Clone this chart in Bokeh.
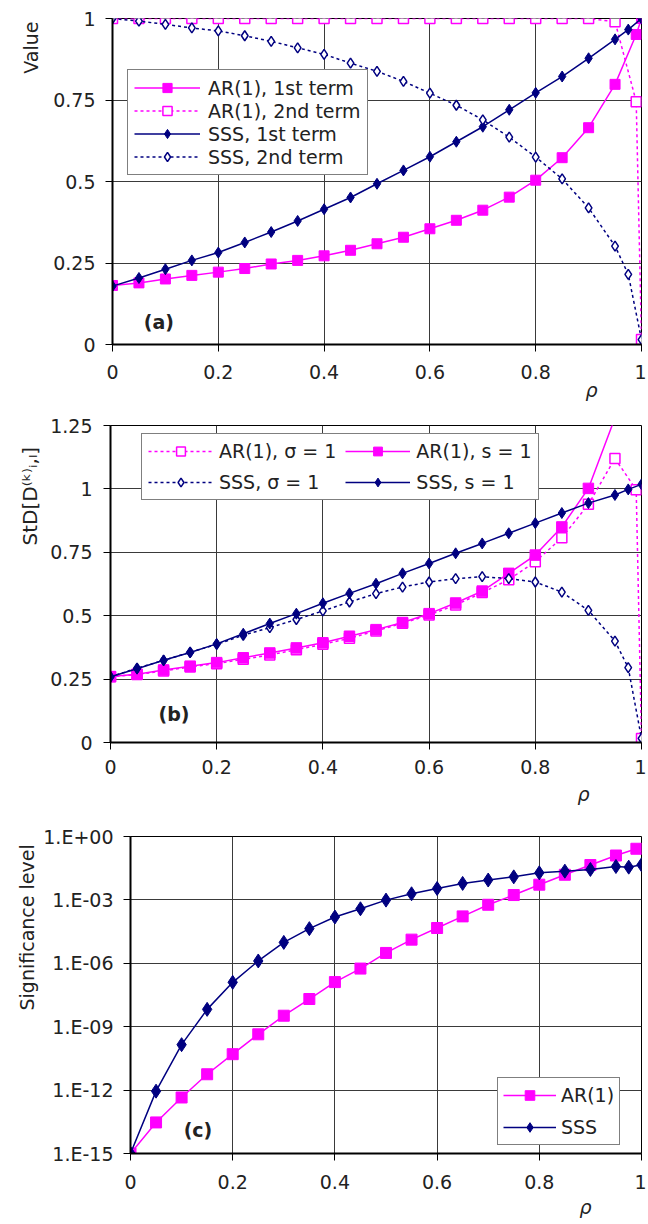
from bokeh.plotting import figure
from bokeh.models import (Range1d, FixedTicker, CustomJSTickFormatter, Label,
                          Legend, LegendItem, Title)
from bokeh.layouts import column, row
from bokeh.embed import file_html
from bokeh.resources import INLINE

# ---------------- data ----------------
RHO = [0.0, 0.05, 0.1, 0.15, 0.2, 0.25, 0.3, 0.35, 0.4, 0.45,
       0.5, 0.55, 0.6, 0.65, 0.7, 0.75, 0.8, 0.85, 0.9, 0.95]
X_TICKS = [0, 0.2, 0.4, 0.6, 0.8, 1]

# panel (a)
a_x_ar1 = RHO + [0.99, 1.0]
a_ar1_t1 = [0.181, 0.189, 0.201, 0.212, 0.222, 0.233, 0.247, 0.258, 0.272, 0.289,
            0.309, 0.329, 0.355, 0.381, 0.412, 0.452, 0.504, 0.573, 0.665, 0.798,
            0.951, 1.0]
a_ar1_t2 = [1.0, 1.0, 1.0, 1.0, 1.0, 1.0, 1.0, 1.0, 1.0, 1.0,
            1.0, 1.0, 1.0, 1.0, 1.0, 1.0, 1.0, 1.0, 1.0, 0.99,
            0.745, 0.015]
a_x_sss = RHO + [0.975, 1.0]
a_sss_t1 = [0.179, 0.204, 0.231, 0.258, 0.282, 0.313, 0.345, 0.379, 0.415, 0.451,
            0.493, 0.534, 0.576, 0.622, 0.668, 0.720, 0.772, 0.822, 0.878, 0.936,
            0.966, 1.0]
a_sss_t2 = [1.0, 0.992, 0.982, 0.971, 0.962, 0.947, 0.930, 0.910, 0.890, 0.863,
            0.838, 0.807, 0.771, 0.734, 0.689, 0.636, 0.575, 0.508, 0.419, 0.302,
            0.215, 0.015]
A_Y_TICKS = [0, 0.25, 0.5, 0.75, 1]

# panel (b)
b_x_ar1_sig = RHO + [0.99, 1.0]
b_ar1_sig = [0.259, 0.268, 0.282, 0.298, 0.311, 0.328, 0.345, 0.366, 0.387, 0.411,
             0.440, 0.470, 0.503, 0.542, 0.591, 0.642, 0.713, 0.807, 0.939, 1.120,
             0.997, 0.016]
b_x_ar1_s = RHO
b_ar1_s = [0.260, 0.269, 0.286, 0.301, 0.315, 0.334, 0.353, 0.373, 0.393, 0.419,
           0.445, 0.473, 0.508, 0.550, 0.597, 0.667, 0.739, 0.850, 1.002, 1.28]
b_x_sss = RHO + [0.975, 1.0]
b_sss_sig = [0.259, 0.293, 0.324, 0.356, 0.387, 0.423, 0.453, 0.485, 0.519, 0.554,
             0.587, 0.613, 0.633, 0.646, 0.654, 0.646, 0.633, 0.593, 0.521, 0.400,
             0.295, 0.016]
b_sss_s = [0.259, 0.291, 0.324, 0.355, 0.389, 0.429, 0.469, 0.508, 0.549, 0.588,
           0.626, 0.667, 0.706, 0.746, 0.785, 0.825, 0.865, 0.905, 0.944, 0.976,
           0.998, 1.018]
B_Y_TICKS = [0, 0.25, 0.5, 0.75, 1, 1.25]

# panel (c)  (log10 of significance level)
c_x_ar1 = RHO + [0.99]
c_ar1_log = [-15.0, -13.53, -12.35, -11.25, -10.30, -9.36, -8.48, -7.69, -6.89, -6.25,
             -5.51, -4.88, -4.33, -3.78, -3.23, -2.77, -2.28, -1.81, -1.35, -0.90,
             -0.58]
c_x_sss = RHO + [0.975, 1.0]
c_sss_log = [-15.0, -12.05, -9.85, -8.18, -6.90, -5.89, -5.01, -4.36, -3.81, -3.42,
             -3.01, -2.71, -2.46, -2.22, -2.06, -1.91, -1.72, -1.64, -1.56, -1.42,
             -1.45, -1.34]
C_Y_TICKS_EXP = [-15, -12, -9, -6, -3, 0]

# ---------------- style ----------------
PINK = "#ff00ff"
NAVY = "#000080"
FONT = "DejaVu Sans"
TXT = "#222222"
FS = "19px"
GRID = "#3a3a3a"
W = 646

lin_fmt = CustomJSTickFormatter(code="return String(Math.round(tick*100)/100);")
log_fmt = CustomJSTickFormatter(code="""
const e = Math.round(Math.log10(tick));
const s = e < 0 ? '-' : '+';
const a = Math.abs(e);
return '1.E' + s + (a < 10 ? '0' : '') + a;
""")


def make_fig(height, ml, mt, mb, yr, yticks, ylog, xstand, ystand):
    p = figure(width=W, height=height,
               x_range=Range1d(0, 1), y_range=Range1d(*yr),
               y_axis_type="log" if ylog else "linear",
               output_backend="svg", toolbar_location=None,
               min_border_left=ml, min_border_right=5,
               min_border_top=mt, min_border_bottom=mb)
    p.background_fill_color = "white"
    p.border_fill_color = "white"
    p.outline_line_color = "black"
    p.outline_line_width = 1
    p.xaxis.ticker = FixedTicker(ticks=X_TICKS, minor_ticks=[])
    p.yaxis.ticker = FixedTicker(ticks=yticks, minor_ticks=[])
    p.xaxis.formatter = lin_fmt
    p.yaxis.formatter = log_fmt if ylog else lin_fmt
    for ax, st in ((p.xaxis, xstand), (p.yaxis, ystand)):
        ax.axis_line_color = "black"
        ax.axis_line_width = 2
        ax.major_tick_line_color = "black"
        ax.major_tick_line_width = 1
        ax.major_tick_out = 7
        ax.major_tick_in = 0
        ax.minor_tick_out = 0
        ax.minor_tick_in = 0
        ax.major_label_text_font = FONT
        ax.major_label_text_font_size = FS
        ax.major_label_text_color = TXT
        ax.major_label_standoff = st
    p.xgrid.grid_line_color = GRID
    p.ygrid.grid_line_color = GRID
    p.xgrid.grid_line_width = 1
    p.ygrid.grid_line_width = 1
    return p


def series(p, x, y, color, marker, size, filled, dash):
    ln = p.line(x, y, line_color=color, line_width=1.5,
                line_dash="solid" if not dash else "3 3")
    sc = p.scatter(x, y, marker=marker, size=size, line_color=color,
                   line_width=1 if filled else 1.5,
                   fill_color=color if filled else "white")
    return [ln, sc]


def inner_label(p, x, y, text):
    p.add_layout(Label(x=x, y=y, text=text,
                       text_font=FONT, text_font_size=FS,
                       text_font_style="bold", text_color=TXT,
                       text_align="center", text_baseline="middle"))


def side_title(p, side, text, offset, standoff, style="normal", size=FS, align="left"):
    t = Title(text=text, align=align, offset=offset, standoff=standoff,
              text_font=FONT, text_font_size=size,
              text_font_style=style, text_color=TXT)
    p.add_layout(t, side)
    return t


def style_legend(lg, pad, gw, gh, lh, sp, stand):
    lg.label_text_font = FONT
    lg.label_text_font_size = FS
    lg.label_text_color = TXT
    lg.border_line_color = "black"
    lg.border_line_width = 1
    lg.background_fill_color = "white"
    lg.background_fill_alpha = 1.0
    lg.padding = pad
    lg.margin = 0
    lg.glyph_width = gw
    lg.glyph_height = gh
    lg.label_height = lh
    lg.spacing = sp
    lg.label_standoff = stand


# ---------------- panel (a) ----------------
pa = make_fig(405, 112, 18, 61, (0, 1), A_Y_TICKS, False, 13, 10)
r_a1 = series(pa, a_x_ar1, a_ar1_t1, PINK, "square", 10, True, False)
r_a2 = series(pa, a_x_ar1, a_ar1_t2, PINK, "square", 10, False, True)
r_s1 = series(pa, a_x_sss, a_sss_t1, NAVY, "diamond", 11, True, False)
r_s2 = series(pa, a_x_sss, a_sss_t2, NAVY, "diamond", 10, False, True)
lga = Legend(items=[LegendItem(label="AR(1), 1st term", renderers=r_a1),
                    LegendItem(label="AR(1), 2nd term", renderers=r_a2),
                    LegendItem(label="SSS, 1st term", renderers=r_s1),
                    LegendItem(label="SSS, 2nd term", renderers=r_s2)],
             location=(15, 169))
style_legend(lga, 6, 66, 23, 23, 0, 8)
pa.add_layout(lga)
side_title(pa, "left", "Value", 3, 18, align="right")
side_title(pa, "below", "ρ", 473, -10, style="italic")
inner_label(pa, 0.0876, 0.0675, "(a)")

# ---------------- panel (b) ----------------
pb = make_fig(407, 110, 20, 70, (0, 1.25), B_Y_TICKS, False, 10, 11)
r_b1 = series(pb, b_x_ar1_sig, b_ar1_sig, PINK, "square", 10, False, True)
r_b2 = series(pb, b_x_ar1_s, b_ar1_s, PINK, "square", 10.5, True, False)
r_b3 = series(pb, b_x_sss, b_sss_sig, NAVY, "diamond", 10, False, True)
r_b4 = series(pb, b_x_sss, b_sss_s, NAVY, "diamond", 11, True, False)
lgb = Legend(items=[LegendItem(label="AR(1), σ = 1", renderers=r_b1),
                    LegendItem(label="SSS, σ = 1", renderers=r_b3),
                    LegendItem(label="AR(1), s = 1", renderers=r_b2),
                    LegendItem(label="SSS, s = 1", renderers=r_b4)],
             location=(31, 242), ncols=2)
style_legend(lgb, 6, 65, 22, 22, 9, 6)
pb.add_layout(lgb)
side_title(pb, "left", "StD[D⁽ᵏ⁾ᵢ,ₗ]", 197, 11, size="20px")
side_title(pb, "below", "ρ", 467, 9, style="italic")
inner_label(pb, 0.1195, 0.114, "(b)")

# ---------------- panel (c) ----------------
pc = make_fig(412, 130, 24, 71, (1e-15, 1.0), [10.0 ** e for e in C_Y_TICKS_EXP],
              True, 14, 10)
r_c1 = series(pc, c_x_ar1, [10.0 ** v for v in c_ar1_log], PINK, "square", 11, True, False)
r_c2 = series(pc, c_x_sss, [10.0 ** v for v in c_sss_log], NAVY, "diamond", 14, True, False)
lgc = Legend(items=[LegendItem(label="AR(1)", renderers=r_c1),
                    LegendItem(label="SSS", renderers=r_c2)],
             location=(367, 8))
style_legend(lgc, 5, 53, 24, 24, 8, 5)
pc.add_layout(lgc)
side_title(pc, "left", "Significance level", 143, 5)
side_title(pc, "below", "ρ", 449, 5, style="italic")
inner_label(pc, 0.132, 10 ** (-13.87), "(c)")

layout = column(row(pa), row(pb), row(pc), spacing=0)
open("out.html", "w").write(file_html(layout, INLINE))
